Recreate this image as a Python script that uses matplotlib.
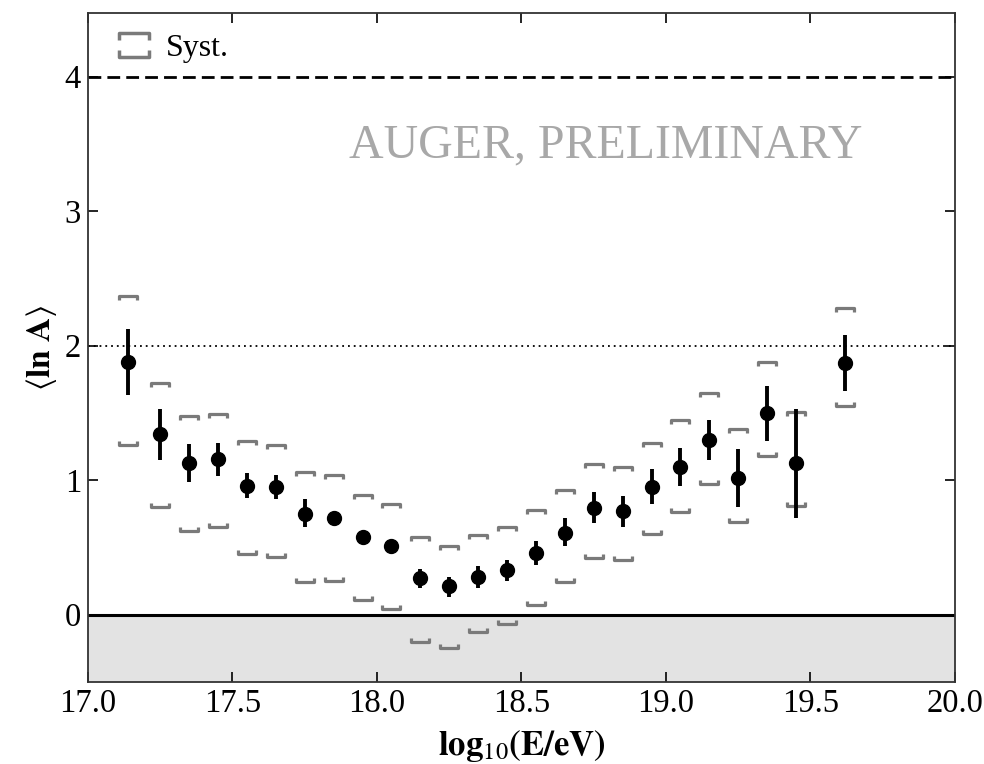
import numpy as np
import matplotlib
matplotlib.use("Agg")
import matplotlib.pyplot as plt
from matplotlib.path import Path
from matplotlib.lines import Line2D

plt.rcParams["font.family"] = ["Liberation Serif", "DejaVu Serif"]
plt.rcParams["mathtext.fontset"] = "stix"

# mean ln A per energy bin, with statistical and systematic bounds
log_e = [17.14, 17.25, 17.35, 17.45, 17.55, 17.65, 17.75, 17.85, 17.95, 18.05,
         18.15, 18.25, 18.35, 18.45, 18.55, 18.65, 18.75, 18.85, 18.95, 19.05,
         19.15, 19.25, 19.35, 19.45, 19.62]
ln_a = [1.88, 1.34, 1.13, 1.16, 0.96, 0.95, 0.75, 0.72, 0.58, 0.51,
        0.27, 0.21, 0.28, 0.33, 0.46, 0.61, 0.79, 0.77, 0.95, 1.10,
        1.30, 1.02, 1.50, 1.13, 1.87]
stat_up = [0.24, 0.19, 0.14, 0.12, 0.09, 0.09, 0.11, 0.04, 0.04, 0.04,
           0.07, 0.07, 0.08, 0.08, 0.09, 0.11, 0.12, 0.11, 0.13, 0.14,
           0.15, 0.21, 0.20, 0.40, 0.21]
stat_down = [0.25, 0.19, 0.14, 0.13, 0.09, 0.09, 0.10, 0.04, 0.04, 0.04,
             0.07, 0.08, 0.08, 0.08, 0.09, 0.10, 0.11, 0.12, 0.13, 0.14,
             0.15, 0.22, 0.21, 0.41, 0.21]
syst_high = [2.37, 1.72, 1.48, 1.49, 1.29, 1.26, 1.06, 1.04, 0.89, 0.82,
             0.58, 0.51, 0.59, 0.65, 0.78, 0.93, 1.12, 1.10, 1.28, 1.45,
             1.65, 1.38, 1.88, 1.51, 2.28]
syst_low = [1.26, 0.80, 0.62, 0.65, 0.45, 0.43, 0.24, 0.25, 0.11, 0.04,
            -0.20, -0.25, -0.13, -0.07, 0.07, 0.24, 0.42, 0.41, 0.60, 0.76,
            0.97, 0.69, 1.18, 0.81, 1.55]

x_ticks = [17.0, 17.5, 18.0, 18.5, 19.0, 19.5, 20.0]
y_ticks = [0, 1, 2, 3, 4]

syst_color = "#7a7a7a"

# bracket shaped markers for the systematic band
cap_top = Path([(-1, -0.45), (-1, 0), (1, 0), (1, -0.45)])
cap_bottom = Path([(-1, 0.45), (-1, 0), (1, 0), (1, 0.45)])
cap_legend = Path([(-1, 0.35), (-1, 0.8), (1, 0.8), (1, 0.35),
                   (-1, -0.35), (-1, -0.8), (1, -0.8), (1, -0.35)],
                  [Path.MOVETO, Path.LINETO, Path.LINETO, Path.LINETO,
                   Path.MOVETO, Path.LINETO, Path.LINETO, Path.LINETO])

fig = plt.figure(figsize=(9.84, 7.64), dpi=100)
ax = fig.add_axes([0.0894, 0.1073, 0.8811, 0.8753])

ax.axhspan(-0.5, 0, color="#e3e3e3", lw=0, zorder=0)
ax.axhline(0, color="k", lw=2.2, zorder=1)
ax.axhline(2, color="k", lw=1.3, ls=(0, (1, 2.2)), zorder=1)
ax.axhline(4, color="k", lw=2.0, ls=(0, (4.6, 2.2)), zorder=1)

ax.plot(log_e, syst_high, ls="none", marker=cap_top, ms=12.5, mew=2.3,
        mec=syst_color, mfc="none", zorder=2)
ax.plot(log_e, syst_low, ls="none", marker=cap_bottom, ms=12.5, mew=2.3,
        mec=syst_color, mfc="none", zorder=2)

ax.errorbar(log_e, ln_a, yerr=[stat_down, stat_up], fmt="o", color="k",
            ms=10, elinewidth=2.8, capsize=0, zorder=3)

ax.text(18.79, 3.49, "AUGER, PRELIMINARY", color="#a8a8a8", fontsize=34.5,
        ha="center", va="center")

handle = Line2D([], [], ls="none", marker=cap_legend, ms=21, mew=2.5,
                mec=syst_color, mfc="none")
ax.legend([handle], ["Syst."], loc="upper left", frameon=False,
          fontsize=23, bbox_to_anchor=(0.0, 1.0), handletextpad=0.2,
          handlelength=1.6, borderaxespad=0.25)

ax.set_xlim(17.0, 20.0)
ax.set_ylim(-0.5, 4.47)
ax.set_xticks(x_ticks)
ax.set_xticklabels([f"{t:.1f}" for t in x_ticks])
ax.set_yticks(y_ticks)
ax.tick_params(direction="in", top=True, right=True, length=7, width=1.2,
               labelsize=23.5, pad=5)
for s in ax.spines.values():
    s.set_linewidth(1.3)
    s.set_color("#333333")

ax.set_xlabel(r"$\mathbf{log}_{10}\mathbf{(E/eV)}$", fontsize=25, labelpad=6)
ax.set_ylabel(r"$\langle\mathbf{ln\ A}\rangle$", fontsize=24, labelpad=4)

fig.savefig("out.png", dpi=100)
